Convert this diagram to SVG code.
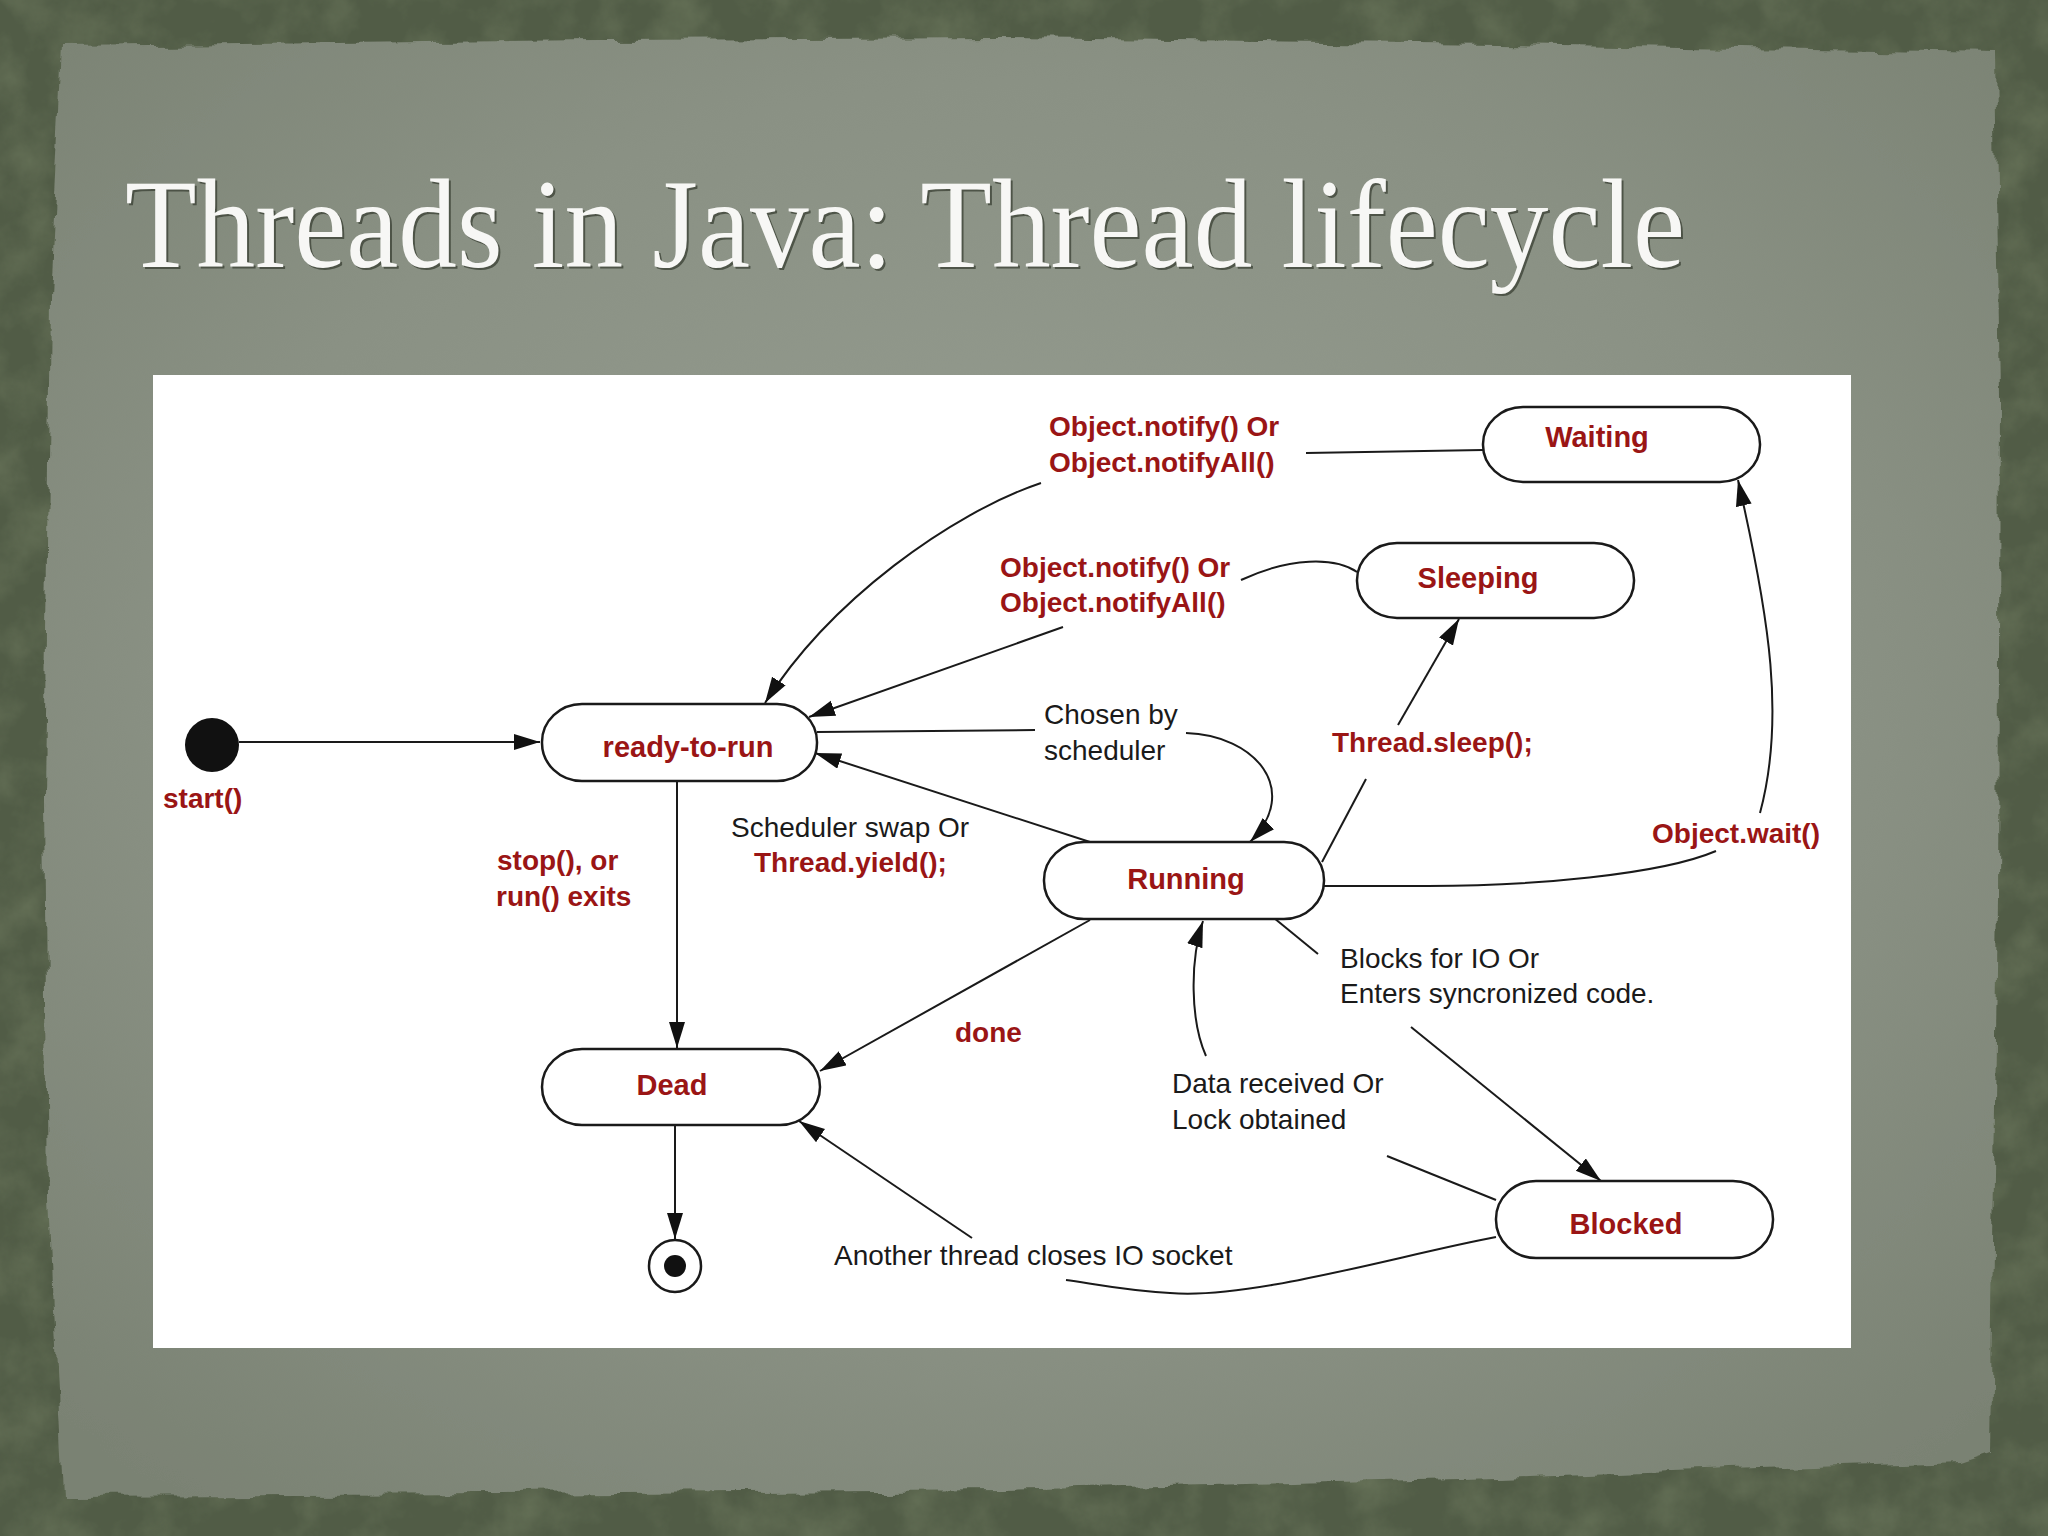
<svg xmlns="http://www.w3.org/2000/svg" width="2048" height="1536" viewBox="0 0 2048 1536">
<defs>
<style>
.r{font-family:"Liberation Sans",Arial,sans-serif;font-weight:bold;font-size:28px;fill:#9a1515}
.k{font-family:"Liberation Sans",Arial,sans-serif;font-size:28px;fill:#1a1a1a}
.n{font-family:"Liberation Sans",Arial,sans-serif;font-weight:bold;font-size:29px;fill:#9a1515;text-anchor:middle}
.box{fill:#ffffff;stroke:#1a1a1a;stroke-width:2.5}
.ln{fill:none;stroke:#1a1a1a;stroke-width:2}
.title{font-family:"Liberation Serif","Times New Roman",serif;font-size:128px}
</style>
<marker id="ah" markerUnits="userSpaceOnUse" markerWidth="28" markerHeight="18" refX="26" refY="8" orient="auto">
<path d="M0,0 L26,8 L0,16 Z" fill="#111"/>
</marker>
<radialGradient id="paper" cx="0.5" cy="0.45" r="0.7">
<stop offset="0" stop-color="#979e92"/>
<stop offset="0.6" stop-color="#8a9184"/>
<stop offset="1" stop-color="#7a8273"/>
</radialGradient>
<filter id="torn" x="-5%" y="-5%" width="110%" height="110%">
<feTurbulence type="fractalNoise" baseFrequency="0.025" numOctaves="3" seed="3" result="t"/>
<feDisplacementMap in="SourceGraphic" in2="t" scale="16" xChannelSelector="R" yChannelSelector="G"/>
</filter>
<filter id="grain" x="0" y="0" width="100%" height="100%">
<feTurbulence type="fractalNoise" baseFrequency="0.02" numOctaves="5" seed="7"/>
<feColorMatrix type="matrix" values="0 0 0 0 0.18  0 0 0 0 0.22  0 0 0 0 0.13  0 0 0 1.2 -0.45"/>
</filter>
</defs>

<g id="background">
<rect x="0" y="0" width="2048" height="1536" fill="#515c46"/>
<rect x="0" y="0" width="2048" height="1536" filter="url(#grain)" opacity="0.8"/>
<path d="M62 46 L600 40 L1000 38 L1500 44 L1995 52 L2000 400 L1998 900 L1990 1452 L1960 1462 L1500 1478 L1000 1490 L500 1494 L62 1496 L48 1200 L44 800 L50 300 Z" fill="url(#paper)" filter="url(#torn)"/>
</g>

<g id="title">
<text class="title" x="127" y="269" fill="#3a4034" opacity="0.75" textLength="1560" lengthAdjust="spacingAndGlyphs">Threads in Java: Thread lifecycle</text>
<text class="title" x="125" y="267" fill="#f7f7f5" textLength="1560" lengthAdjust="spacingAndGlyphs">Threads in Java: Thread lifecycle</text>
</g>

<rect id="panel" x="153" y="375" width="1698" height="973" fill="#ffffff"/>

<g id="connectors">
<path class="ln" d="M239 742 L540 742" marker-end="url(#ah)"/>
<path class="ln" d="M677 781 L677 1048" marker-end="url(#ah)"/>
<path class="ln" d="M675 1125 L675 1239" marker-end="url(#ah)"/>
<path class="ln" d="M1483 450 L1306 453"/>
<path class="ln" d="M1041 483 C 952 513, 830 600, 765 703" marker-end="url(#ah)"/>
<path class="ln" d="M1357 572 C 1335 557, 1290 557, 1241 580"/>
<path class="ln" d="M1063 627 L809 717" marker-end="url(#ah)"/>
<path class="ln" d="M817 732 L1035 730"/>
<path class="ln" d="M1186 733 C 1255 735, 1302 790, 1250 842" marker-end="url(#ah)"/>
<path class="ln" d="M1090 842 L815 753" marker-end="url(#ah)"/>
<path class="ln" d="M1322 862 L1366 779"/>
<path class="ln" d="M1398 725 L1459 619" marker-end="url(#ah)"/>
<path class="ln" d="M1324 886 L1428 886 C 1530 886, 1660 875, 1716 851"/>
<path class="ln" d="M1760 813 C 1785 720, 1770 620, 1738 480" marker-end="url(#ah)"/>
<path class="ln" d="M1090 920 L820 1071" marker-end="url(#ah)"/>
<path class="ln" d="M1274 918 L1318 954"/>
<path class="ln" d="M1411 1027 L1601 1181" marker-end="url(#ah)"/>
<path class="ln" d="M1496 1200 L1387 1156"/>
<path class="ln" d="M1206 1056 C 1190 1020, 1190 960, 1203 921" marker-end="url(#ah)"/>
<path class="ln" d="M1496 1237 C 1400 1255, 1250 1300, 1170 1293 C 1120 1290, 1090 1283, 1066 1280"/>
<path class="ln" d="M972 1238 L799 1121" marker-end="url(#ah)"/>
</g>

<g id="start">
<circle cx="212" cy="745" r="27" fill="#111"/>
<text class="r" x="163" y="808">start()</text>
</g>

<g id="ready-to-run">
<rect class="box" x="542" y="704" width="275" height="77" rx="40" ry="38"/>
<text class="n" x="688" y="757">ready-to-run</text>
</g>

<g id="waiting">
<rect class="box" x="1483" y="407" width="277" height="75" rx="40" ry="37"/>
<text class="n" x="1597" y="447">Waiting</text>
</g>

<g id="sleeping">
<rect class="box" x="1357" y="543" width="277" height="75" rx="40" ry="37"/>
<text class="n" x="1478" y="588">Sleeping</text>
</g>

<g id="running">
<rect class="box" x="1044" y="842" width="280" height="77" rx="40" ry="38"/>
<text class="n" x="1186" y="889">Running</text>
</g>

<g id="dead">
<rect class="box" x="542" y="1049" width="278" height="76" rx="40" ry="38"/>
<text class="n" x="672" y="1095">Dead</text>
</g>

<g id="blocked">
<rect class="box" x="1496" y="1181" width="277" height="77" rx="40" ry="38"/>
<text class="n" x="1626" y="1234">Blocked</text>
</g>

<g id="end">
<circle cx="675" cy="1266" r="26" fill="#ffffff" stroke="#1a1a1a" stroke-width="2.5"/>
<circle cx="675" cy="1266" r="11" fill="#111"/>
</g>

<g id="labels">
<text class="r" x="1049" y="436">Object.notify() Or</text>
<text class="r" x="1049" y="472">Object.notifyAll()</text>
<text class="r" x="1000" y="577">Object.notify() Or</text>
<text class="r" x="1000" y="612">Object.notifyAll()</text>
<text class="k" x="1044" y="724">Chosen by</text>
<text class="k" x="1044" y="760">scheduler</text>
<text class="r" x="1332" y="752">Thread.sleep();</text>
<text class="k" x="731" y="837">Scheduler swap Or</text>
<text class="r" x="754" y="872">Thread.yield();</text>
<text class="r" x="497" y="870">stop(), or</text>
<text class="r" x="496" y="906">run() exits</text>
<text class="r" x="1652" y="843">Object.wait()</text>
<text class="k" x="1340" y="968">Blocks for IO Or</text>
<text class="k" x="1340" y="1003">Enters syncronized code.</text>
<text class="r" x="955" y="1042">done</text>
<text class="k" x="1172" y="1093">Data received Or</text>
<text class="k" x="1172" y="1129">Lock obtained</text>
<text class="k" x="834" y="1265">Another thread closes IO socket</text>
</g>
</svg>
